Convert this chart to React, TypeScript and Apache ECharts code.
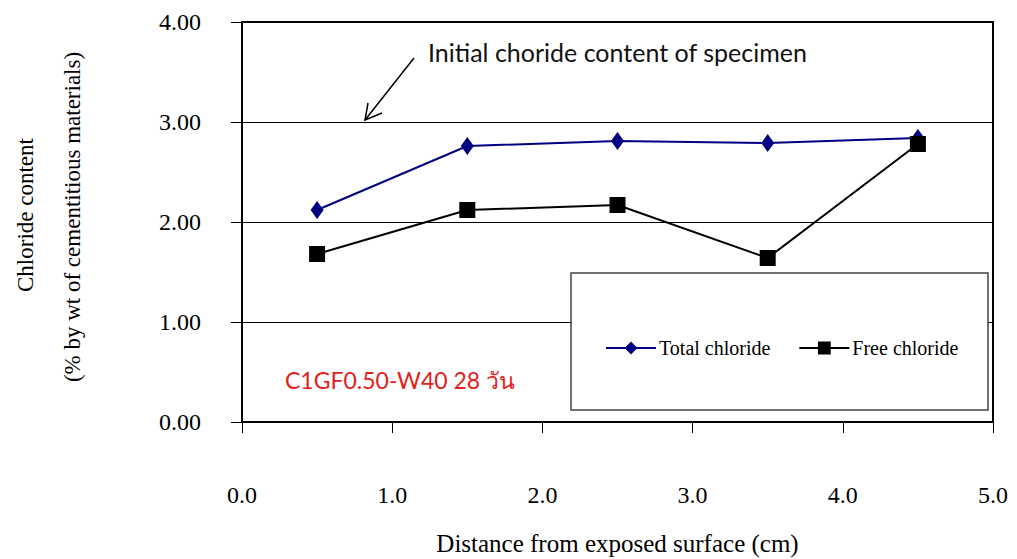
import React, { useEffect, useRef } from "react";
import * as echarts from "echarts";

const distances = [0.5, 1.5, 2.5, 3.5, 4.5];
const totalChloride = [2.12, 2.76, 2.81, 2.79, 2.84];
const freeChloride = [1.68, 2.12, 2.17, 1.64, 2.78];
const seriesNames = ["Total chloride", "Free chloride"];
const xAxisTitle = "Distance from exposed surface (cm)";
const yAxisTitle1 = "Chloride content";
const yAxisTitle2 = "(% by wt of cementitious materials)";
const annotationText = "Initial choride content of specimen";
const sampleLabel = "C1GF0.50-W40 28 วัน";

const SERIF = "'Liberation Serif', 'DejaVu Serif', serif";
const SANS = "Lato, 'Noto Sans', 'DejaVu Sans', sans-serif";

export default function App() {
  const ref = useRef<HTMLDivElement>(null);
  useEffect(() => {
    if (!ref.current) return;
    const chart = echarts.init(ref.current, undefined, { renderer: "svg" });
    chart.setOption({
      animation: false,
      backgroundColor: "#fff",
      grid: {
        left: 242,
        top: 22,
        right: 24,
        bottom: 137,
        outerBoundsMode: "none",
        containLabel: false,
        show: true,
        borderColor: "#000",
        borderWidth: 2,
        backgroundColor: "transparent",
      },
      xAxis: {
        type: "value",
        min: 0,
        max: 5,
        interval: 1,
        axisLine: { show: true, lineStyle: { color: "#000", width: 2 } },
        axisTick: { show: true, length: 11, lineStyle: { color: "#000", width: 1 } },
        splitLine: { show: false },
        axisLabel: {
          margin: 61,
          color: "#000",
          fontFamily: SERIF,
          fontSize: 24,
          formatter: (v: number) => v.toFixed(1),
        },
        name: xAxisTitle,
        nameLocation: "middle",
        nameGap: 109,
        nameTextStyle: { color: "#000", fontFamily: SERIF, fontSize: 25 },
      },
      yAxis: {
        type: "value",
        min: 0,
        max: 4,
        interval: 1,
        axisLine: { show: true, lineStyle: { color: "#000", width: 2 } },
        axisTick: { show: true, length: 11, lineStyle: { color: "#000", width: 1 } },
        splitLine: { show: true, lineStyle: { color: "#000", width: 1 } },
        axisLabel: {
          margin: 41,
          color: "#000",
          fontFamily: SERIF,
          fontSize: 24,
          formatter: (v: number) => v.toFixed(2),
        },
      },
      legend: {
        data: seriesNames,
        left: 600,
        top: 333,
        itemWidth: 50,
        itemHeight: 16,
        itemGap: 28,
        z: 10,
        textStyle: { color: "#000", fontFamily: SERIF, fontSize: 20, padding: [0, 0, 0, -2] },
      },
      series: [
        {
          name: seriesNames[0],
          type: "line",
          data: distances.map((d, i) => [d, totalChloride[i]]),
          symbol: "diamond",
          symbolSize: [13, 18],
          lineStyle: { color: "#000080", width: 2 },
          itemStyle: { color: "#000080" },
          z: 3,
        },
        {
          name: seriesNames[1],
          type: "line",
          data: distances.map((d, i) => [d, freeChloride[i]]),
          symbol: "rect",
          symbolSize: 16,
          lineStyle: { color: "#000", width: 2 },
          itemStyle: { color: "#000" },
          z: 4,
        },
      ],
      graphic: [
        {
          type: "rect",
          z: 5,
          shape: { x: 571, y: 273, width: 417, height: 137 },
          style: { fill: "#fff", stroke: "#444", lineWidth: 1.5 },
        },
        {
          type: "text",
          z: 6,
          x: 428,
          y: 52,
          style: {
            text: annotationText,
            fill: "#111",
            font: `25px ${SANS}`,
            textVerticalAlign: "middle",
          },
        },
        {
          type: "line",
          z: 6,
          shape: { x1: 414, y1: 58, x2: 365, y2: 120 },
          style: { stroke: "#000", lineWidth: 1.5 },
        },
        {
          type: "polyline",
          z: 6,
          shape: { points: [[368, 103], [365, 120], [382, 113]] },
          style: { stroke: "#000", lineWidth: 1.5, fill: "none" },
        },
        {
          type: "text",
          z: 6,
          x: 285,
          y: 380,
          style: {
            text: sampleLabel,
            fill: "#e3201b",
            font: `23px ${SANS}`,
            textVerticalAlign: "middle",
          },
        },
        {
          type: "text",
          z: 6,
          x: 25,
          y: 215,
          rotation: Math.PI / 2,
          style: {
            text: yAxisTitle1,
            fill: "#000",
            font: `23px ${SERIF}`,
            textAlign: "center",
            textVerticalAlign: "middle",
          },
        },
        {
          type: "text",
          z: 6,
          x: 72,
          y: 217,
          rotation: Math.PI / 2,
          style: {
            text: yAxisTitle2,
            fill: "#000",
            font: `23px ${SERIF}`,
            textAlign: "center",
            textVerticalAlign: "middle",
          },
        },
      ],
    });
    return () => chart.dispose();
  }, []);
  return (
    <div
      ref={ref}
      style={{ position: "fixed", left: 0, top: 0, width: 1017, height: 559 }}
    />
  );
}
